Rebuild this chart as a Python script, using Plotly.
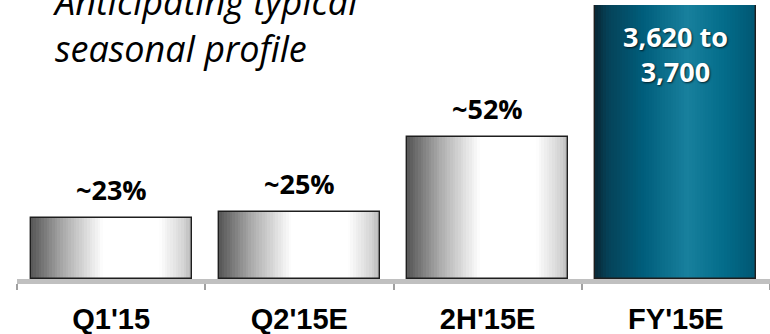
import plotly.graph_objects as go

# ---- data ----
categories = ["Q1'15", "Q2'15E", "2H'15E", "FY'15E"]
bar_heights = [22.3, 24.5, 51.9, 100.0]          # share of full-year (FY = 100)
pct_labels = ["~23%", "~25%", "~52%", None]
fy_label = "3,620 to<br>3,700"
title_text = "Anticipating typical<br>seasonal profile"

# ---- style ----
BAR_W = 0.855
N = 60
gray_stops = [(0.0, (85, 85, 85)), (0.2, (170, 170, 170)), (0.45, (255, 255, 255)),
              (0.8, (255, 255, 255)), (0.95, (212, 212, 212)), (1.0, (185, 185, 185))]
teal_stops = [(0.0, (8, 40, 54)), (0.08, (5, 66, 88)), (0.3, (0, 94, 124)),
              (0.57, (24, 128, 157)), (0.8, (3, 108, 138)), (1.0, (0, 86, 114))]


def interp(stops, t):
    for (t0, c0), (t1, c1) in zip(stops[:-1], stops[1:]):
        if t0 <= t <= t1:
            f = (t - t0) / (t1 - t0) if t1 > t0 else 0
            return "rgb(%d,%d,%d)" % tuple(round(a + (b - a) * f) for a, b in zip(c0, c1))
    return "rgb(%d,%d,%d)" % stops[-1][1]


fig = go.Figure()
step = BAR_W / N
for k in range(N):
    t = (k + 0.5) / N
    cols = [interp(gray_stops, t)] * 3 + [interp(teal_stops, t)]
    w = step * 1.6 if k < N - 1 else step
    fig.add_trace(go.Bar(
        x=categories, y=bar_heights, width=[w] * 4, offset=[-BAR_W / 2 + k * step] * 4,
        marker=dict(color=cols, line=dict(width=0)), hoverinfo="skip", showlegend=False))

# outline
fig.add_trace(go.Bar(
    x=categories, y=bar_heights, width=[BAR_W] * 4, offset=[-BAR_W / 2] * 4,
    marker=dict(color="rgba(0,0,0,0)", line=dict(color="#1e1e1e", width=1.4)),
    hoverinfo="skip", showlegend=False))

for c, v, lab in zip(categories, bar_heights, pct_labels):
    if lab:
        fig.add_annotation(x=c, y=v, text=lab, showarrow=False, yanchor="bottom", yshift=8,
                           font=dict(family="Open Sans", size=27, color="#000000", weight="bold"))

fig.add_annotation(x=categories[3], y=bar_heights[3], text=fy_label, showarrow=False,
                   yanchor="top", yshift=-11,
                   font=dict(family="Open Sans", size=27, color="#ffffff", weight="bold",
                             shadow="1px 1px 2px rgba(0,0,0,0.7)"))

fig.add_annotation(xref="paper", yref="paper", x=(50 - 17) / 753, y=(279 - 25) / 274,
                   xanchor="left", yanchor="middle", align="left", showarrow=False,
                   text=title_text,
                   font=dict(family="Open Sans", size=36, color="#000000", style="italic"))

fig.update_layout(
    width=770, height=334, margin=dict(l=17, r=0, t=5, b=55),
    paper_bgcolor="white", plot_bgcolor="white", barmode="overlay", bargap=0,
    xaxis=dict(showline=True, linecolor="#c0c0c0", linewidth=5, ticks="outside",
               tickson="boundaries", ticklen=6, tickwidth=1.5, tickcolor="#a0a0a0",
               showgrid=False, zeroline=False, ticklabelstandoff=10,
               tickfont=dict(family="Liberation Sans", size=29, color="#000000", weight="bold")),
    yaxis=dict(range=[0, 100], visible=False, showgrid=False, zeroline=False),
)

fig.write_html("out.html")
